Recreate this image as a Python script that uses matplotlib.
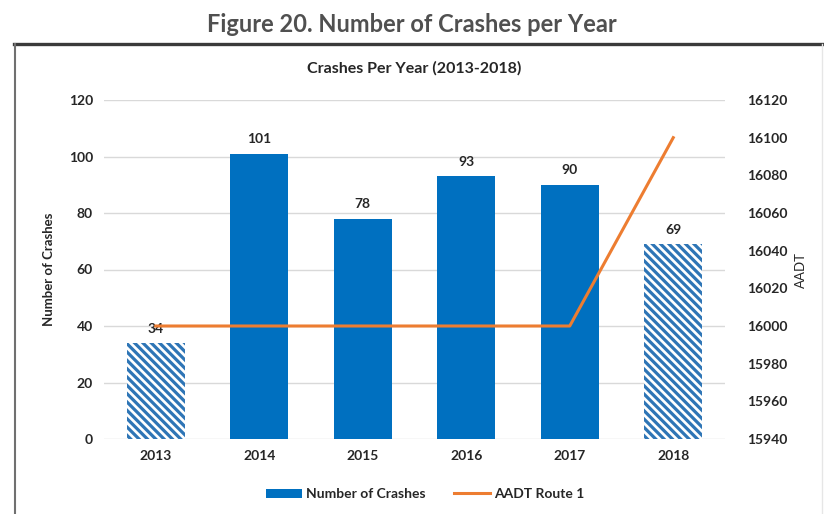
import matplotlib
matplotlib.use("Agg")
import matplotlib.pyplot as plt
from matplotlib.lines import Line2D
from matplotlib.patches import Patch

plt.rcParams['font.family'] = ['Lato', 'DejaVu Sans']
plt.rcParams['hatch.linewidth'] = 2.3

years = ['2013', '2014', '2015', '2016', '2017', '2018']
crashes = [34, 101, 78, 93, 90, 69]
aadt = [16000, 16000, 16000, 16000, 16000, 16100]
partial_year = [True, False, False, False, False, True]

BLUE = '#0070C0'
HATCH_BLUE = '#2E75B6'
ORANGE = '#ED7D31'
TEXT = '#262626'

fig = plt.figure(figsize=(8.24, 5.14), dpi=100)
fig.patch.set_facecolor('white')

# page heading and frame around the chart
fig.text(0.5, 0.952, 'Figure 20. Number of Crashes per Year', ha='center', va='center',
         fontsize=17, fontweight='bold', color='#505050')
fig.add_artist(Line2D([14/824, 1.0], [1 - 44/514, 1 - 44/514], color='#3a3a3a', lw=2.4))
fig.add_artist(Line2D([15/824, 15/824], [0, 1 - 44/514], color='#707070', lw=1.5))
fig.add_artist(Line2D([822/824, 822/824], [0, 1 - 44/514], color='#e6e6e6', lw=1.0))

ax = fig.add_axes([104/824, 1 - 439/514, (725 - 104)/824, (439 - 100)/514])
x = list(range(len(years)))

for xi, val, partial in zip(x, crashes, partial_year):
    if partial:
        ax.bar(xi, val, width=0.56, color='white', edgecolor=HATCH_BLUE,
               hatch='\\\\\\\\', linewidth=0, zorder=2)
    else:
        ax.bar(xi, val, width=0.56, color=BLUE, linewidth=0, zorder=2)
    ax.annotate(str(val), (xi, val), xytext=(0, 6), textcoords='offset points',
                ha='center', va='bottom', fontsize=10, fontweight='bold', color=TEXT, zorder=5)

ax.set_xlim(-0.5, 5.5)
ax.set_ylim(0, 120)
ax.set_yticks(range(0, 121, 20))
ax.set_xticks(x)
ax.set_xticklabels(years)
ax.grid(axis='y', color='#d9d9d9', lw=1, zorder=0)
ax.set_axisbelow(True)
for s in ax.spines.values():
    s.set_visible(False)
ax.tick_params(length=0, labelsize=10, colors=TEXT, pad=8)
for lbl in ax.get_xticklabels() + ax.get_yticklabels():
    lbl.set_fontweight('bold')
ax.set_ylabel('Number of Crashes', fontsize=9.5, fontweight='bold', color=TEXT, labelpad=10)
ax.set_title('Crashes Per Year (2013-2018)', fontsize=11.5, fontweight='bold', color=TEXT, pad=20)

ax2 = ax.twinx()
ax2.plot(x, aadt, color=ORANGE, lw=2.2, zorder=4)
ax2.set_ylim(15940, 16120)
ax2.set_yticks(range(15940, 16121, 20))
for s in ax2.spines.values():
    s.set_visible(False)
ax2.tick_params(length=0, labelsize=10, colors=TEXT, pad=16)
for lbl in ax2.get_yticklabels():
    lbl.set_fontweight('bold')
ax2.set_ylabel('AADT', fontsize=9.5, color=TEXT, labelpad=5)

handles = [Patch(facecolor=BLUE, edgecolor='none', label='Number of Crashes'),
           Line2D([], [], color=ORANGE, lw=2.2, label='AADT Route 1')]
leg = fig.legend(handles=handles, loc='center', bbox_to_anchor=(425/824, 1 - 494/514), ncol=2,
                 frameon=False, prop={'weight': 'bold', 'size': 10}, handlelength=2.6,
                 handleheight=0.6, columnspacing=2.0, handletextpad=0.3)
for t in leg.get_texts():
    t.set_color(TEXT)

fig.savefig('out.png', dpi=100)
